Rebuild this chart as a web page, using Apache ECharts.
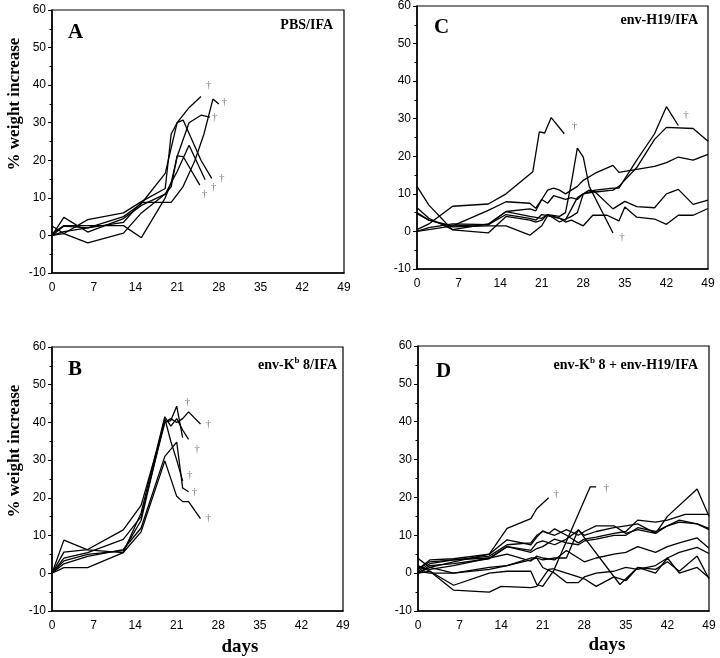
<!DOCTYPE html>
<html>
<head>
<meta charset="utf-8">
<script src="https://cdn.jsdelivr.net/npm/echarts@6/dist/echarts.min.js"></script>
<style>html,body{margin:0;padding:0;background:#fff;}#c{width:720px;height:658px;}</style>
</head>
<body>
<div id="c"></div>
<script>
// ---- data: [day, % weight increase] per mouse ----
const dayTicks = [0, 7, 14, 21, 28, 35, 42, 49];
const yTicks = [-10, 0, 10, 20, 30, 40, 50, 60];

const panelA = [
  [[0,0],[2,1],[6,2],[12,5],[15,8.5],[19,16.5],[21,30],[23,34],[25,37]],
  [[0,0],[2,2.5],[6,2],[12,3.5],[15,8.8],[20,8.8],[22,13],[24,20],[25.5,27],[27,36.3],[28,35]],
  [[0,2.5],[2,0.5],[6,-2],[12,0.6],[15,6],[19,11],[20,13],[21,21],[23,30],[25,32],[26.5,31.5]],
  [[0,0],[2,0.5],[6,4.2],[12,6],[15,9],[19,12.5],[20,27],[21,30],[22,30.7],[25,20],[26.8,15.2]],
  [[0,0],[2,4.8],[6,0.9],[12,4.5],[15,8],[19,11],[21,17],[23,24],[25.7,14.8]],
  [[0,0.5],[2,2.6],[6,2.6],[12,2.6],[15,-0.6],[19,10],[20,14],[21,21.2],[22,21],[24.8,13.4]]
];
const daggersA = [[26.3,40],[28.9,35.4],[27.3,31.5],[28.5,15.3],[27.1,12.9],[25.6,10.9]];

const panelB = [
  [[0,0],[2,5.6],[6,6.3],[12,11.5],[15,18],[19,40],[20,41],[21,40],[22,41],[23,42.8],[25,39.6]],
  [[0,0],[2,8.8],[6,6.2],[12,5.5],[15,16],[19,41.5],[20,39],[21,41],[22,38],[23,35.5]],
  [[0,0],[2,4],[6,5.5],[12,9],[15,15],[19,40],[20,40.5],[21,44.3],[22,36]],
  [[0,0],[2,3.3],[6,5],[12,6],[15,14],[19,41],[20,35],[21,30],[22,24.5]],
  [[0,0],[2,2.5],[6,4.5],[12,6.3],[15,12],[19,31],[21,34.8],[22,22.6],[23,21.6]],
  [[0,0],[2,1.5],[6,1.5],[12,5.5],[15,11],[19,29.8],[21,20.4],[22,19],[23,19],[25,14.5]]
];
const daggersB = [[22.8,45.5],[26.3,39.5],[24.4,33],[23.2,26],[24,21.5],[26.3,14.5]];

const panelC = [
  [[0,0.5],[2,2],[6,6.7],[12,7.3],[15,10],[19.5,15.9],[20.6,26.5],[21.5,26.2],[22.6,30.3],[24.8,26]],
  [[0,4.7],[2,3],[6,1.5],[12,1.8],[15,5.3],[19,4],[21,3.5],[22,4.5],[24,4],[25,5],[26,13],[27,22.2],[28,19.8],[29,12],[33,-0.4]],
  [[0,0],[2,0.5],[6,1.5],[12,5.6],[15,7.9],[19,7.5],[20,6.2],[21,8.5],[22,7.5],[23,9.5],[25,8.5],[26,9],[27,8.5],[28,10],[30,11],[33,11.5],[34,11.5],[37,19],[40,26],[42,33.2],[44,28.2]],
  [[0,0],[2,1],[6,2],[12,1.8],[15,4.5],[19,3.5],[20,3],[21,4.5],[23,4],[25,3],[27,9],[28,10],[30,10.5],[33,11],[34,12],[37,17],[40,24.5],[42,27.7],[46.5,27.4],[49,24]],
  [[0,6.3],[2,3.5],[6,0.5],[12,2],[15,5.3],[19,6],[20,5.5],[21,8.5],[22,11],[23,11.5],[24,11],[25,10],[27,12],[28,13.6],[30,15.5],[33,17.6],[34,15.7],[37,16.5],[40,17.3],[42,18.3],[44,19.8],[46.5,19],[49,20.5]],
  [[0,12],[2,7],[6,0.4],[12,-0.4],[15,4],[19,3],[20,2.5],[21,3],[22,4.5],[24,2.5],[26,4],[27,5],[28,10],[29,11],[30,10.5],[33,6],[35,8],[37,6.6],[40,6.3],[42,10],[44,11.2],[46.5,7.2],[49,8.3]],
  [[0,5],[2,3],[6,1.2],[12,1.5],[15,1.5],[19,-1],[21,1.5],[22,4.2],[24,3.5],[25,2.5],[26,3],[28,1.5],[29.6,4.3],[32,4.3],[34,2.8],[35,6.5],[37,3.8],[40,3.3],[42,1.9],[44,4.3],[46.5,4.3],[49,6.1]]
];
const daggersC = [[26.5,28],[34.5,-1.5],[45.3,30.9]];

const panelD = [
  [[0,0],[2,1.5],[6,3],[12,5],[15,11.8],[19,14.4],[20,17],[22,19.9]],
  [[0,0],[2,0.5],[6,-4.5],[12,-5],[14,-3.5],[19,-3.8],[20,-3.5],[22,1],[23,1.2],[29,22.8],[30,22.8]],
  [[0,3.9],[2,1.5],[6,0],[12,1],[15,2],[19,3.5],[20,4],[21,3.5],[23,4],[25,4],[27,11.5],[34,-3],[35,-1.5],[37,1.5],[40,1],[42,3],[44,0.5],[47,4.5],[49,-1.5]],
  [[0,1],[2,3],[6,3.5],[12,4.5],[15,7.5],[19,8],[20,10],[21,11],[23,10],[25,11.5],[27,10],[28,11],[30,12.5],[33,12.5],[35,10.5],[37,11.5],[40,10.5],[42,15],[47,22.2],[49,15]],
  [[0,1],[2,3.5],[6,3.8],[12,5],[15,8.8],[19,7.5],[20,9.5],[21,11.2],[22,10.5],[23,11.7],[25,10],[27,8],[28,9],[30,9.5],[33,10.5],[35,11],[37,14],[40,13.5],[42,14],[45,15.5],[49,15.5]],
  [[0,0.5],[2,2.5],[6,3.5],[12,4],[15,7],[19,5.5],[20,6.5],[21,7],[23,9],[25,8],[27,7.5],[28,8.5],[30,9],[33,10],[35,10],[37,12],[40,11],[42,12.5],[44,14],[47,13],[49,11.8]],
  [[0,0],[2,2],[6,2.5],[12,3.8],[15,7],[19,6],[20,8],[21,8.5],[23,7.5],[25,9],[27,11.3],[28,10],[30,11],[33,12],[35,12.5],[37,13],[40,10.5],[42,12.5],[44,13.5],[47,13],[49,11.5]],
  [[0,1.5],[2,1],[6,2],[12,4],[15,5],[19,3.2],[20,4.5],[21,4],[23,3.5],[25,6],[27,4],[28,3],[30,4],[33,5],[35,5.5],[37,7],[40,5.5],[42,7],[44,8],[47,9.3],[49,6.6]],
  [[0,0.5],[2,0],[6,0],[12,1.5],[15,2],[19,4],[20,4],[21,1.5],[23,0],[25,-2.5],[27,-2.5],[28,-1],[30,0],[33,0.5],[35,1.5],[37,1],[40,2],[42,4],[44,5.5],[47,6.8],[49,5.2]],
  [[0,2],[2,0.5],[6,-3.2],[12,0],[15,0.5],[19,0.5],[20,-3],[21,-3.5],[23,1],[25,0],[27,-1],[28,-1.5],[30,-3.5],[33,-1],[35,-2],[37,1.5],[40,0],[42,4],[44,0],[47,1.5],[49,-1.2]]
];
const daggersD = [[23.3,21],[31.7,22.4]];

// ---- layout ----
const grids = [
  {left:52, top:10, width:292, height:263},   // A
  {left:52, top:347, width:291, height:264},  // B
  {left:417, top:6, width:291, height:263},   // C
  {left:418, top:346, width:291, height:265}  // D
];
const panels = [panelA, panelB, panelC, panelD];
const daggers = [daggersA, daggersB, daggersC, daggersD];

const chart = echarts.init(document.getElementById('c'), null, {renderer:'canvas'});
const sans = 'Liberation Sans, Arial, sans-serif';
const serif = 'Liberation Serif, Times New Roman, serif';

const option = {
  backgroundColor: '#fff',
  animation: false,
  grid: grids.map(g => Object.assign({show:true, borderColor:'#000', borderWidth:1.2, backgroundColor:'transparent'}, g)),
  xAxis: grids.map((g,i) => ({
    type:'value', gridIndex:i, min:dayTicks[0], max:dayTicks[dayTicks.length-1], interval:7,
    axisLine:{show:true, onZero:false, lineStyle:{color:'#000', width:1.5}},
    axisTick:{show:false},
    splitLine:{show:false},
    axisLabel:{color:'#000', fontFamily:sans, fontSize:12, margin:9}
  })),
  yAxis: grids.map((g,i) => ({
    type:'value', gridIndex:i, min:yTicks[0], max:yTicks[yTicks.length-1], interval:10,
    axisLine:{show:true, onZero:false, lineStyle:{color:'#000', width:1.5}},
    axisTick:{show:true, length:4, lineStyle:{color:'#000', width:1}},
    minorTick:{show:true, splitNumber:2, length:2.5, lineStyle:{color:'#000', width:1}},
    splitLine:{show:false},
    axisLabel:{color:'#000', fontFamily:sans, fontSize:12, margin:6}
  })),
  series: [],
  graphic: []
};

panels.forEach((lines, i) => {
  lines.forEach(d => {
    option.series.push({
      type:'line', xAxisIndex:i, yAxisIndex:i, data:d, showSymbol:false, symbol:'none',
      lineStyle:{color:'#000', width:1.3}, silent:true
    });
  });
  option.series.push({
    type:'scatter', xAxisIndex:i, yAxisIndex:i, data:daggers[i], symbolSize:0,
    label:{show:true, position:'inside', formatter:'\u2020', color:'#555', fontFamily:serif, fontSize:11},
    silent:true
  });
});

const g = option.graphic;
const bold = (x, y, text, size, align) => ({
  type:'text', left:x, top:y,
  style:{text:text, font:'bold ' + size + 'px ' + serif, fill:'#000', textAlign:align || 'left', textVerticalAlign:'middle'}
});
// panel letters
g.push({type:'text', x:68, y:33, style:{text:'A', font:'bold 21px ' + serif, fill:'#000', verticalAlign:'middle'}});
g.push({type:'text', x:434, y:28, style:{text:'C', font:'bold 21px ' + serif, fill:'#000', verticalAlign:'middle'}});
g.push({type:'text', x:68, y:370, style:{text:'B', font:'bold 21px ' + serif, fill:'#000', verticalAlign:'middle'}});
g.push({type:'text', x:436, y:372, style:{text:'D', font:'bold 21px ' + serif, fill:'#000', verticalAlign:'middle'}});
// group labels
g.push({type:'text', x:333, y:25, style:{text:'PBS/IFA', font:'bold 14px ' + serif, fill:'#000', align:'right', verticalAlign:'middle'}});
g.push({type:'text', x:698, y:20, style:{text:'env-H19/IFA', font:'bold 14px ' + serif, fill:'#000', align:'right', verticalAlign:'middle'}});
const richSup = {
  n:{font:'bold 14px ' + serif, fill:'#000', color:'#000', fontWeight:'bold', fontFamily:serif, fontSize:14},
  s:{fontWeight:'bold', fontFamily:serif, fontSize:9, color:'#000', verticalAlign:'top', padding:[0,0,9,0]}
};
g.push({type:'text', x:337, y:365, style:{text:'{n|env-K}{s|b}{n| 8/IFA}', rich:richSup, align:'right', verticalAlign:'middle'}});
g.push({type:'text', x:698, y:365, style:{text:'{n|env-K}{s|b}{n| 8 + env-H19/IFA}', rich:richSup, align:'right', verticalAlign:'middle'}});
// axis titles
g.push({type:'text', x:15, y:104, rotation:Math.PI/2, style:{text:'% weight increase', font:'bold 17px ' + serif, fill:'#000', align:'center', verticalAlign:'middle'}});
g.push({type:'text', x:15, y:451, rotation:Math.PI/2, style:{text:'% weight increase', font:'bold 17px ' + serif, fill:'#000', align:'center', verticalAlign:'middle'}});
g.push({type:'text', x:240, y:647, style:{text:'days', font:'bold 19px ' + serif, fill:'#000', align:'center', verticalAlign:'middle'}});
g.push({type:'text', x:607, y:645, style:{text:'days', font:'bold 19px ' + serif, fill:'#000', align:'center', verticalAlign:'middle'}});

chart.setOption(option);
</script>
</body>
</html>
